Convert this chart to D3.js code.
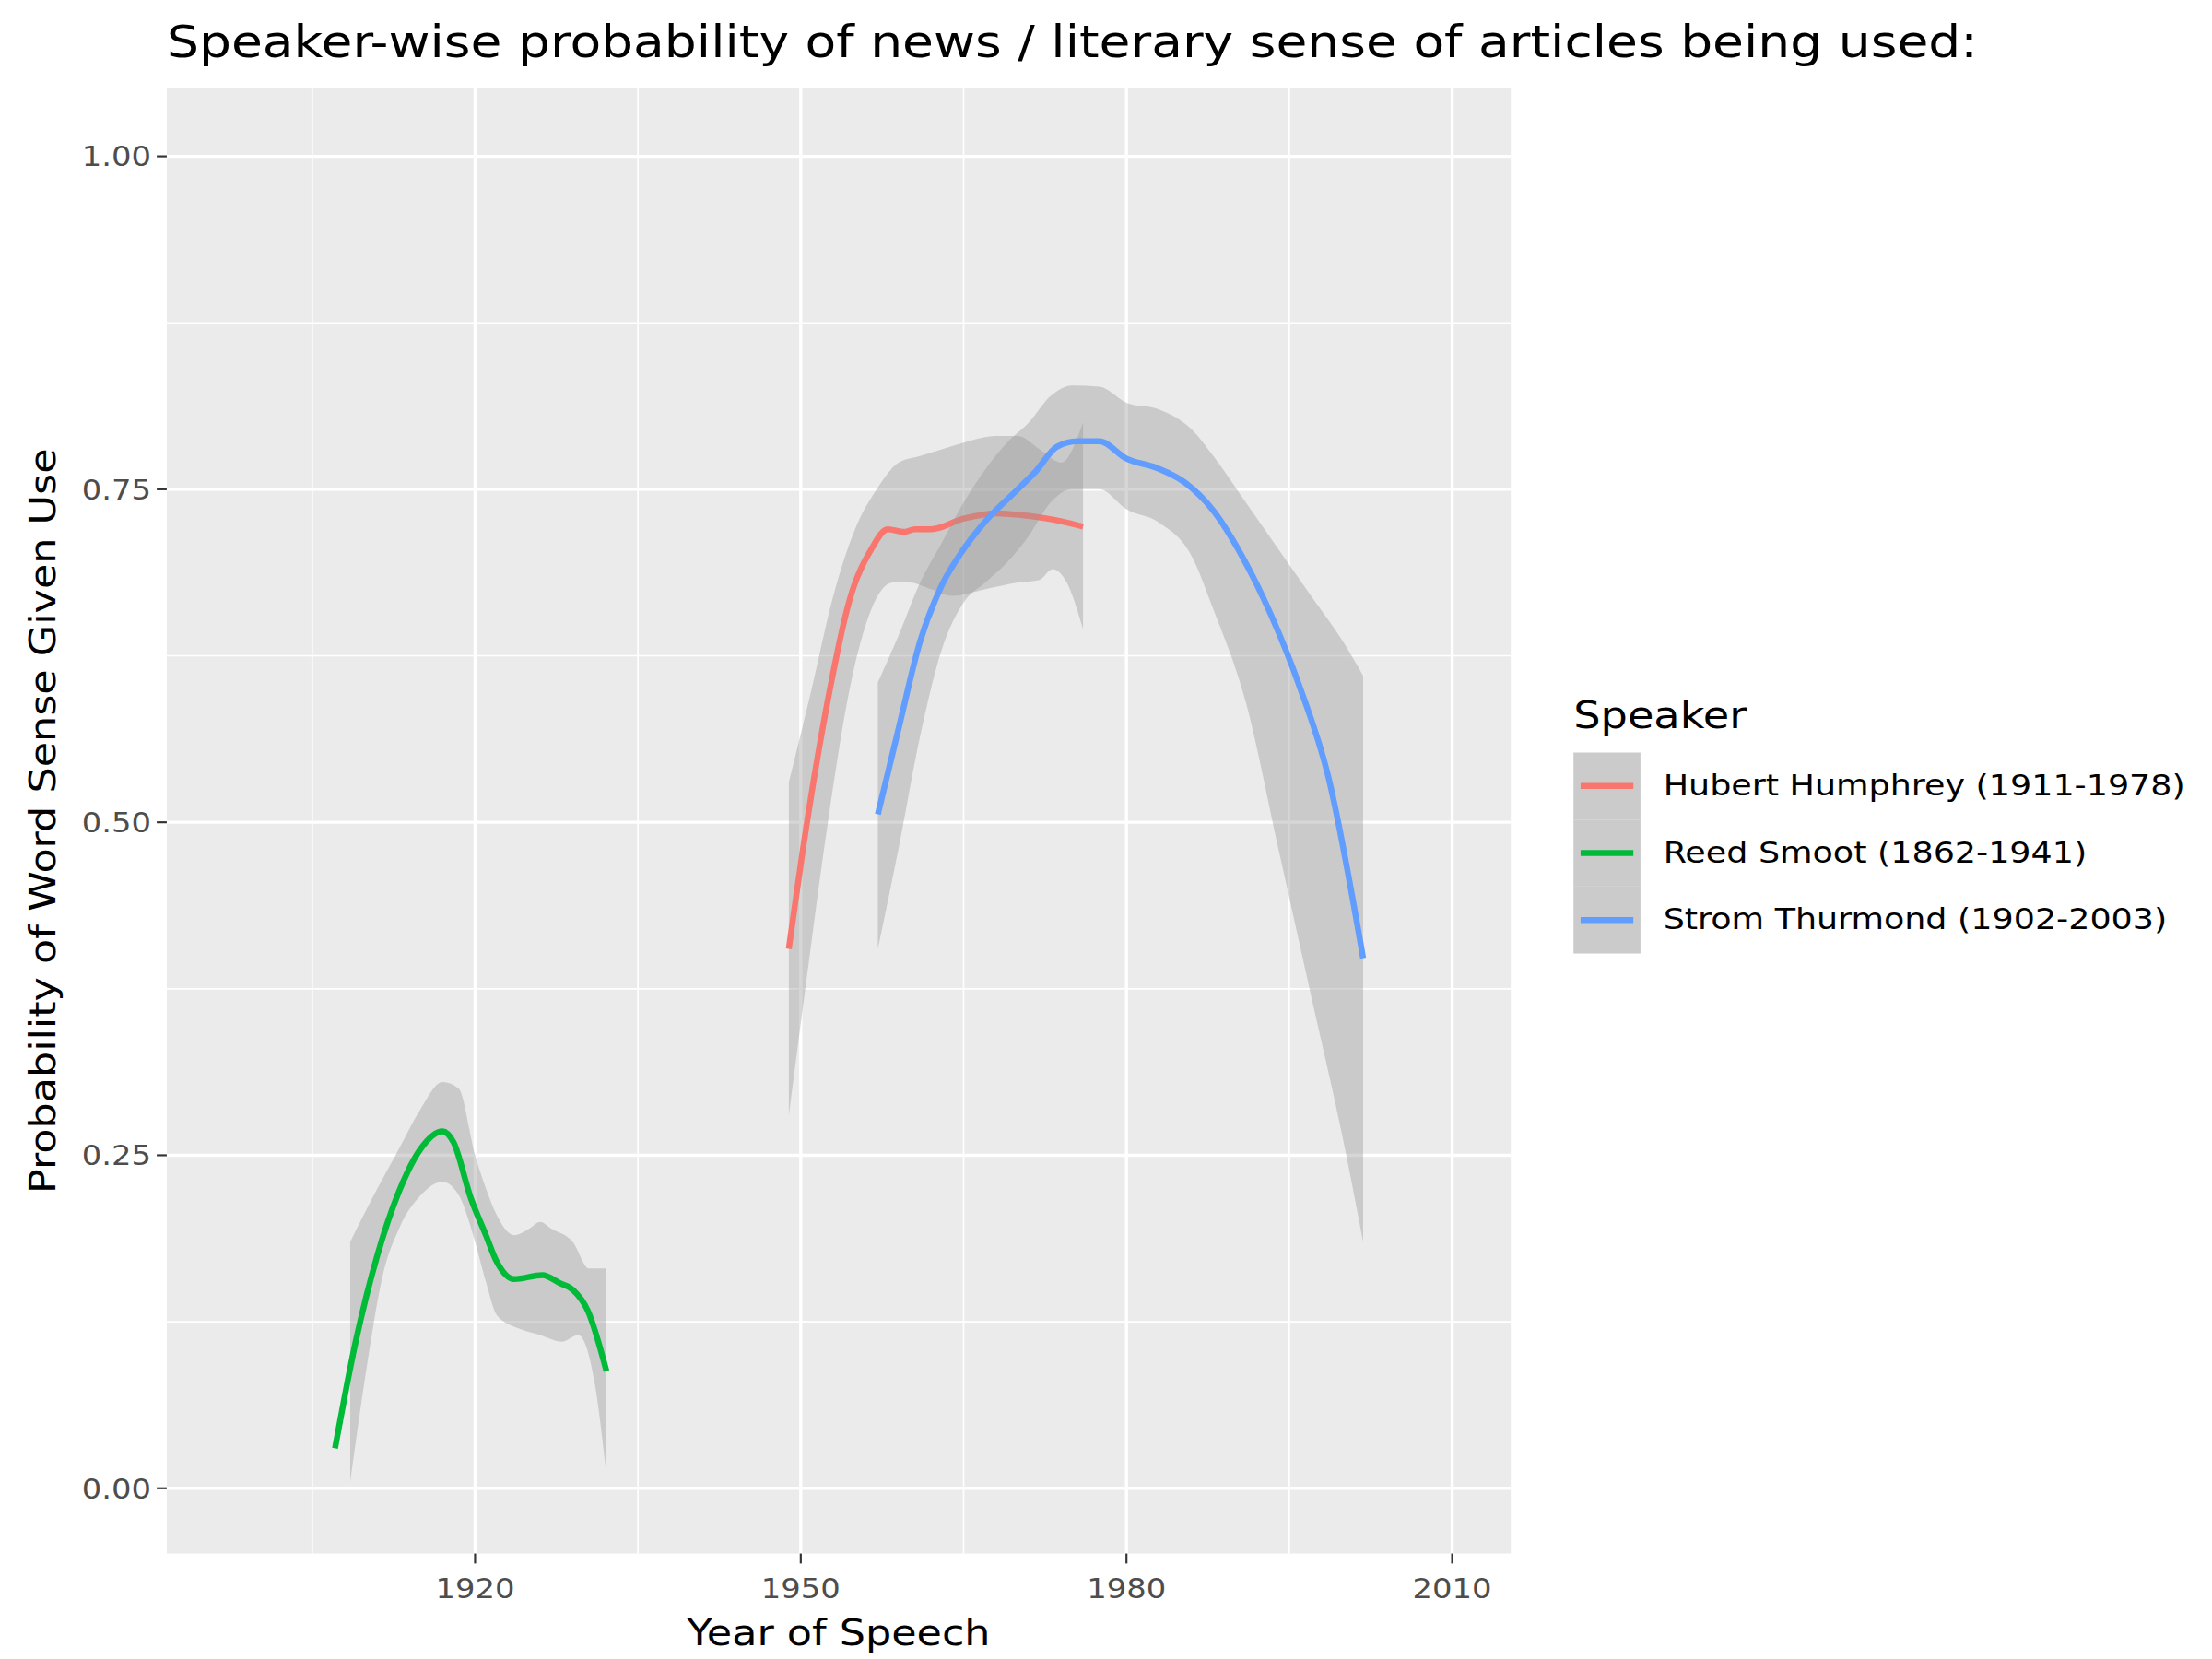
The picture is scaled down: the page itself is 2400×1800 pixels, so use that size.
<!DOCTYPE html>
<html><head><meta charset="utf-8">
<script src="https://cdn.jsdelivr.net/npm/d3@7"></script>
<style>body{margin:0;background:#fff}text{font-family:"DejaVu Sans",sans-serif}</style>
</head><body><svg id="c" width="2400" height="1800" viewBox="0 0 1552 1164"></svg>
<script>
// Series: [year, value]
const smootLine = [[1907.1,0.03],[1909,0.11],[1911,0.175],[1913,0.223],[1915,0.255],[1917,0.268],[1918,0.26],[1919.6,0.218],[1921,0.19],[1922,0.17],[1923.6,0.157],[1926.2,0.16],[1927.8,0.154],[1929,0.149],[1930.4,0.133],[1932.1,0.088]];
const smootUpper = [[1908.5,0.185],[1911,0.225],[1913,0.255],[1915,0.285],[1917,0.305],[1918.5,0.3],[1920,0.25],[1921,0.225],[1922,0.205],[1923.6,0.19],[1925,0.195],[1926,0.2],[1927,0.195],[1929,0.185],[1930.5,0.165],[1932.1,0.165]];
const smootLower = [[1908.5,0.005],[1910,0.09],[1911.5,0.16],[1913,0.195],[1915,0.22],[1917,0.23],[1918.5,0.22],[1920,0.185],[1921,0.155],[1922,0.13],[1924,0.12],[1926,0.115],[1928,0.11],[1929.5,0.115],[1931,0.08],[1932.1,0.01]];

const humLine = [[1948.9,0.405],[1950.5,0.496],[1952.5,0.592],[1954.5,0.667],[1956.5,0.705],[1958,0.72],[1959.5,0.718],[1960.5,0.72],[1962,0.72],[1965,0.728],[1968,0.732],[1971,0.73],[1974,0.726],[1976,0.722]];
const humUpper = [[1948.9,0.53],[1951,0.6],[1953,0.67],[1955,0.72],[1957,0.75],[1959,0.77],[1961,0.775],[1963,0.78],[1965,0.785],[1968,0.79],[1970,0.79],[1972,0.78],[1974,0.77],[1976,0.8]];
const humLower = [[1948.9,0.28],[1950.5,0.38],[1952.5,0.5],[1954.5,0.6],[1956.5,0.66],[1958.5,0.68],[1960,0.68],[1962,0.675],[1964,0.67],[1967,0.675],[1970,0.68],[1972,0.682],[1973.2,0.69],[1974.5,0.68],[1976,0.645]];

const thuLine = [[1957.1,0.506],[1959,0.57],[1961,0.636],[1963,0.678],[1965,0.705],[1967,0.726],[1969.6,0.747],[1971.6,0.763],[1973.6,0.782],[1975.5,0.786],[1977.5,0.786],[1980,0.773],[1982.8,0.766],[1985.4,0.755],[1988,0.734],[1990.7,0.699],[1993.3,0.656],[1995.9,0.603],[1998.6,0.534],[2001.8,0.398]];
const thuUpper = [[1957.1,0.605],[1959,0.64],[1961,0.68],[1963,0.71],[1965,0.74],[1967,0.765],[1969,0.785],[1971,0.8],[1973,0.82],[1975,0.828],[1977.5,0.827],[1980,0.815],[1983,0.81],[1986,0.795],[1988,0.775],[1991,0.74],[1994,0.705],[1997,0.67],[2000,0.635],[2001.8,0.61]];
const thuLower = [[1957.1,0.405],[1959,0.48],[1961,0.565],[1963,0.63],[1965,0.665],[1967,0.68],[1969,0.695],[1971,0.715],[1973,0.74],[1975,0.75],[1977.5,0.75],[1980,0.735],[1983,0.725],[1986,0.7],[1988,0.66],[1991,0.59],[1994,0.48],[1997,0.37],[2000,0.26],[2001.8,0.185]];

const speakers = ["Hubert Humphrey (1911-1978)","Reed Smoot (1862-1941)","Strom Thurmond (1902-2003)"];
const colors = ["#F8766D","#00BA38","#619CFF"];
const xTicks = [1920,1950,1980,2010];
const xMinor = [1905,1935,1965,1995];
const yTicks = [0,0.25,0.5,0.75,1];
const yMinor = [0.125,0.375,0.625,0.875];

const svg = d3.select("#c");
const L=117,R=1060,T=62,B=1090;
const SX=1.15; // reference text is slightly wide
const x = d3.scaleLinear().domain([1891.6,2015.4]).range([L,R]);
const y = d3.scaleLinear().domain([-0.049,1.051]).range([B,T]);

function label(px,py,str,size,anchor,fill,rot){
  svg.append("text")
    .attr("transform",`translate(${px},${py}) rotate(${rot||0}) scale(${SX},1)`)
    .attr("text-anchor",anchor||"start").attr("font-size",size).attr("fill",fill||"#000").text(str);
}

svg.append("rect").attr("x",L).attr("y",T).attr("width",R-L).attr("height",B-T).attr("fill","#EBEBEB");
const g = svg.append("g");
xMinor.forEach(v=>g.append("line").attr("x1",x(v)).attr("x2",x(v)).attr("y1",T).attr("y2",B).attr("stroke","#fff").attr("stroke-width",1.1));
yMinor.forEach(v=>g.append("line").attr("y1",y(v)).attr("y2",y(v)).attr("x1",L).attr("x2",R).attr("stroke","#fff").attr("stroke-width",1.1));
xTicks.forEach(v=>g.append("line").attr("x1",x(v)).attr("x2",x(v)).attr("y1",T).attr("y2",B).attr("stroke","#fff").attr("stroke-width",2.2));
yTicks.forEach(v=>g.append("line").attr("y1",y(v)).attr("y2",y(v)).attr("x1",L).attr("x2",R).attr("stroke","#fff").attr("stroke-width",2.2));

const area = (up,lo)=>{
  const c = d3.curveMonotoneX;
  const top = d3.line().x(d=>x(d[0])).y(d=>y(d[1])).curve(c)(up);
  const bot = d3.line().x(d=>x(d[0])).y(d=>y(d[1])).curve(c)(lo.slice().reverse());
  return top + "L" + bot.slice(1) + "Z";
};
const line = d3.line().x(d=>x(d[0])).y(d=>y(d[1])).curve(d3.curveMonotoneX);
const series = [[humLine,humUpper,humLower],[smootLine,smootUpper,smootLower],[thuLine,thuUpper,thuLower]];
series.forEach(([ln,up,lo],i)=>{
  g.append("path").attr("d",area(up,lo)).attr("fill","#999").attr("fill-opacity",0.4);
  g.append("path").attr("d",line(ln)).attr("fill","none").attr("stroke",colors[i]).attr("stroke-width",4.2);
});

// axes
xTicks.forEach(v=>{
  svg.append("line").attr("x1",x(v)).attr("x2",x(v)).attr("y1",B).attr("y2",B+7).attr("stroke","#333").attr("stroke-width",1.4);
  label(x(v),B+31,v,19,"middle","#4D4D4D");
});
yTicks.forEach(v=>{
  svg.append("line").attr("x1",L-7).attr("x2",L).attr("y1",y(v)).attr("y2",y(v)).attr("stroke","#333").attr("stroke-width",1.4);
  label(L-11,y(v)+7,d3.format(".2f")(v),19,"end","#4D4D4D");
});
label((L+R)/2,1154,"Year of Speech",25,"middle");
label(39,(T+B)/2,"Probability of Word Sense Given Use",25,"middle","#000",-90);
label(L,40,"Speaker-wise probability of news / literary sense of articles being used:",31);

// legend
label(1104,511,"Speaker",26);
speakers.forEach((s,i)=>{
  const ky = 528 + i*47;
  svg.append("rect").attr("x",1104).attr("y",ky).attr("width",47).attr("height",47).attr("fill","#CBCBCB");
  svg.append("line").attr("x1",1109).attr("x2",1146).attr("y1",ky+23.5).attr("y2",ky+23.5).attr("stroke",colors[i]).attr("stroke-width",4.2);
  label(1167,ky+30,s,20.5);
});
</script></body></html>
